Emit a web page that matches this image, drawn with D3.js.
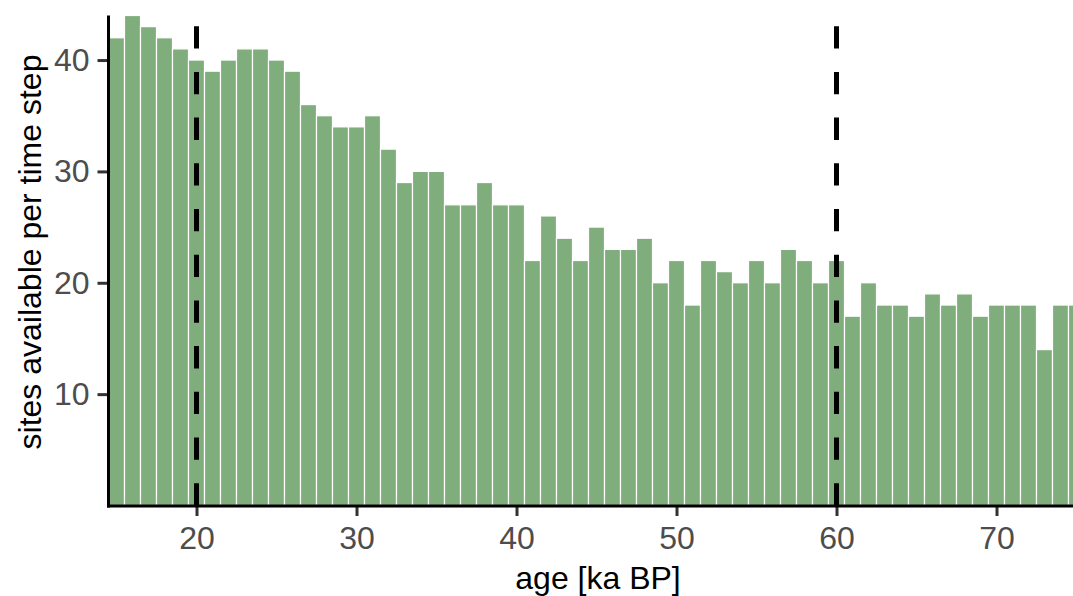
<!DOCTYPE html>
<html>
<head>
<meta charset="utf-8">
<script src="https://d3js.org/d3.v7.min.js"></script>
<style>
  body { margin: 0; background: #fff; }
  svg { display: block; font-family: "Liberation Sans", Arial, sans-serif; }
</style>
</head>
<body>
<svg width="1073" height="596"></svg>
<script>
// age of each time step (ka BP) and number of sites available
var ages = [15, 16, 17, 18, 19, 20, 21, 22, 23, 24, 25, 26, 27, 28, 29, 30,
            31, 32, 33, 34, 35, 36, 37, 38, 39, 40, 41, 42, 43, 44, 45, 46,
            47, 48, 49, 50, 51, 52, 53, 54, 55, 56, 57, 58, 59, 60, 61, 62,
            63, 64, 65, 66, 67, 68, 69, 70, 71, 72, 73, 74, 75];
var sites = [42, 44, 43, 42, 41, 40, 39, 40, 41, 41, 40, 39, 36, 35, 34, 34,
             35, 32, 29, 30, 30, 27, 27, 29, 27, 27, 22, 26, 24, 22, 25, 23,
             23, 24, 20, 22, 18, 22, 21, 20, 22, 20, 23, 22, 20, 22, 17, 20,
             18, 18, 17, 19, 18, 19, 17, 18, 18, 18, 14, 18, 18];
var xTicks = [20, 30, 40, 50, 60, 70];
var yTicks = [10, 20, 30, 40];
var markers = [20, 60];

var svg = d3.select("svg"),
    margin = {top: 15.5, left: 108.5, bottom: 505.5};

var x = d3.scaleLinear().domain([14.5, 75.5]).range([margin.left, margin.left + 61 * 16]);
var y = d3.scaleLinear().domain([0, 44]).range([margin.bottom, margin.top]);

var data = ages.map(function(a, i) { return {age: a, n: sites[i]}; });

svg.append("clipPath").attr("id", "clip")
  .append("rect")
    .attr("x", margin.left).attr("y", 0)
    .attr("width", 1073 - margin.left).attr("height", margin.bottom);

var plot = svg.append("g").attr("clip-path", "url(#clip)");

plot.selectAll(".bar")
  .data(data)
  .enter().append("rect")
    .attr("class", "bar")
    .attr("x", function(d) { return x(d.age - 0.5); })
    .attr("y", function(d) { return y(d.n); })
    .attr("width", x(1) - x(0))
    .attr("height", function(d) { return y(0) - y(d.n); })
    .style("fill", "#7fae7c")
    .style("stroke", "#ffffff")
    .style("stroke-width", "1.2px");

// dashed markers, pattern starts at the bottom of the panel
plot.selectAll(".marker")
  .data(markers)
  .enter().append("line")
    .attr("class", "marker")
    .attr("x1", function(d) { return x(d); })
    .attr("x2", function(d) { return x(d); })
    .attr("y1", y(0))
    .attr("y2", y(44))
    .style("stroke", "#000")
    .style("stroke-width", "5px")
    .style("stroke-dasharray", "22.3,23.4");

// x axis
var gx = svg.append("g")
    .attr("transform", "translate(0," + (margin.bottom + 0.5) + ")")
    .call(d3.axisBottom(x).tickValues(xTicks).tickSize(10).tickPadding(10));
gx.select(".domain").remove();
gx.selectAll(".tick line").style("stroke", "#333").style("stroke-width", "3px");
gx.selectAll(".tick text").style("fill", "#4d4d4d").style("font-size", "32px")
  .attr("dy", "0.71em");
svg.append("line")
    .attr("x1", margin.left - 1.5).attr("x2", 1073)
    .attr("y1", margin.bottom + 0.5).attr("y2", margin.bottom + 0.5)
    .style("stroke", "#000").style("stroke-width", "3px");

// y axis
var gy = svg.append("g")
    .attr("transform", "translate(" + margin.left + ",0)")
    .call(d3.axisLeft(y).tickValues(yTicks).tickSize(11).tickPadding(8));
gy.select(".domain").remove();
gy.selectAll(".tick line").style("stroke", "#333").style("stroke-width", "3px");
gy.selectAll(".tick text").style("fill", "#4d4d4d").style("font-size", "32px");
svg.append("line")
    .attr("x1", margin.left).attr("x2", margin.left)
    .attr("y1", margin.top).attr("y2", margin.bottom + 2)
    .style("stroke", "#000").style("stroke-width", "3px");

// titles
svg.append("text")
    .attr("x", 598).attr("y", 589)
    .attr("text-anchor", "middle")
    .style("font-size", "32px")
    .style("fill", "#000")
    .text("age [ka BP]");

svg.append("text")
    .attr("transform", "translate(41,252) rotate(-90)")
    .attr("text-anchor", "middle")
    .style("font-size", "32px")
    .style("fill", "#000")
    .text("sites available per time step");
</script>
</body>
</html>
